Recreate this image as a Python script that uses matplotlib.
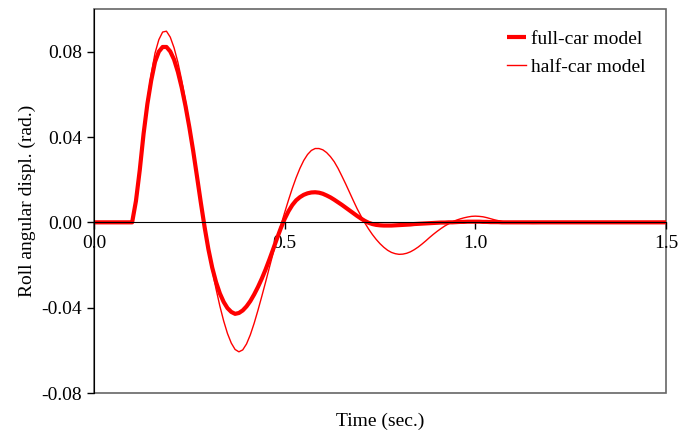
import matplotlib
matplotlib.use('Agg')
import matplotlib.pyplot as plt
import matplotlib.patches as patches

plt.rcParams['font.family'] = ['Liberation Serif', 'DejaVu Serif']

# time samples (sec.)
time = [0.00, 0.10,
        0.11, 0.12, 0.13, 0.14, 0.15, 0.16, 0.17, 0.18, 0.19, 0.20,
        0.21, 0.22, 0.23, 0.24, 0.25, 0.26, 0.27, 0.28, 0.29, 0.30,
        0.31, 0.32, 0.33, 0.34, 0.35, 0.36, 0.37, 0.38, 0.39, 0.40,
        0.41, 0.42, 0.43, 0.44, 0.45, 0.46, 0.47, 0.48, 0.49, 0.50,
        0.51, 0.52, 0.53, 0.54, 0.55, 0.56, 0.57, 0.58, 0.59, 0.60,
        0.61, 0.62, 0.63, 0.64, 0.65, 0.66, 0.67, 0.68, 0.69, 0.70,
        0.71, 0.72, 0.73, 0.74, 0.75, 0.76, 0.77, 0.78, 0.79, 0.80,
        0.81, 0.82, 0.83, 0.84, 0.85, 0.86, 0.87, 0.88, 0.89, 0.90,
        0.91, 0.92, 0.93, 0.94, 0.95, 0.96, 0.97, 0.98, 0.99, 1.00,
        1.01, 1.02, 1.03, 1.04, 1.05, 1.06, 1.07, 1.08, 1.09, 1.10,
        1.15, 1.20, 1.25, 1.30, 1.40, 1.50]

# roll angular displacement (rad.), full-car model
full_car = [0.0, 0.0,
            0.0100, 0.0245, 0.0415, 0.0555, 0.0665, 0.0752, 0.0800, 0.0822, 0.0822, 0.0801,
            0.0763, 0.0705, 0.0632, 0.0545, 0.0446, 0.0336, 0.0216, 0.0094, -0.0022, -0.0126,
            -0.0212, -0.0280, -0.0333, -0.0373, -0.0402, -0.0420, -0.0429, -0.0425, -0.0413, -0.0394,
            -0.0369, -0.0338, -0.0303, -0.0264, -0.0221, -0.0174, -0.0125, -0.0075, -0.0027, 0.0016,
            0.0052, 0.0081, 0.0103, 0.0118, 0.0129, 0.0136, 0.0140, 0.0141, 0.0139, 0.0134,
            0.0126, 0.0117, 0.0106, 0.0094, 0.0082, 0.0069, 0.0056, 0.0043, 0.0030, 0.0018,
            0.0007, -0.0002, -0.0008, -0.0012, -0.0014, -0.0015, -0.0015, -0.0015, -0.0014, -0.0013,
            -0.0012, -0.0011, -0.0010, -0.0008, -0.0007, -0.0006, -0.0005, -0.0004, -0.0003, -0.0002,
            -0.0001, -0.0001, 0.0000, 0.0000, 0.0001, 0.0002, 0.0002, 0.0003, 0.0003, 0.0003,
            0.0003, 0.0002, 0.0002, 0.0001, 0.0001, 0.0001, 0.0000, 0.0000, 0.0000, 0.0000,
            0.0, 0.0, 0.0, 0.0, 0.0, 0.0]

# roll angular displacement (rad.), half-car model
half_car = [0.0, 0.0,
            0.0100, 0.0248, 0.0422, 0.0572, 0.0694, 0.0793, 0.0856, 0.0892, 0.0896, 0.0868,
            0.0818, 0.0750, 0.0666, 0.0568, 0.0458, 0.0340, 0.0218, 0.0095, -0.0020, -0.0128,
            -0.0224, -0.0312, -0.0392, -0.0462, -0.0521, -0.0566, -0.0596, -0.0607, -0.0598, -0.0570,
            -0.0527, -0.0473, -0.0412, -0.0347, -0.0280, -0.0211, -0.0143, -0.0077, -0.0014, 0.0046,
            0.0104, 0.0159, 0.0209, 0.0253, 0.0290, 0.0318, 0.0337, 0.0346, 0.0346, 0.0340,
            0.0327, 0.0308, 0.0284, 0.0253, 0.0217, 0.0180, 0.0141, 0.0102, 0.0064, 0.0030,
            -0.0002, -0.0031, -0.0057, -0.0080, -0.0100, -0.0117, -0.0131, -0.0141, -0.0147, -0.0150,
            -0.0149, -0.0145, -0.0138, -0.0128, -0.0116, -0.0102, -0.0087, -0.0071, -0.0056, -0.0042,
            -0.0029, -0.0017, -0.0007, 0.0002, 0.0010, 0.0016, 0.0021, 0.0025, 0.0028, 0.0029,
            0.0028, 0.0026, 0.0022, 0.0017, 0.0012, 0.0008, 0.0004, 0.0001, -0.0001, -0.0003,
            -0.0005, -0.0004, -0.0002, 0.0, 0.0, 0.0]

x_ticks = [0.0, 0.5, 1.0, 1.5]
x_labels = ['0.0', '0.5', '1.0', '1.5']
y_ticks = [-0.08, -0.04, 0.00, 0.04, 0.08]
y_labels = ['-0.08', '-0.04', '0.00', '0.04', '0.08']

fig = plt.figure(figsize=(6.94, 4.30), dpi=100)
ax = fig.add_axes([94 / 694, 37 / 430, 572 / 694, 384 / 430])

ax.plot(time, full_car, color='#ff0000', lw=3.0, label='full-car model',
        solid_joinstyle='round', solid_capstyle='butt')
ax.plot(time, half_car, color='#ff0000', lw=1.0, label='half-car model')

ax.set_xlim(0, 1.5)
ax.set_ylim(-0.08, 0.10)

# x axis runs through zero
ax.spines['bottom'].set_position(('data', 0))
ax.spines['bottom'].set_color('black')
ax.spines['left'].set_color('black')
ax.spines['top'].set_visible(False)
ax.spines['right'].set_visible(False)
frame = patches.Rectangle((0, 0), 1, 1, transform=ax.transAxes, fill=False,
                          edgecolor='#666666', lw=1.2, clip_on=False, zorder=0)
ax.add_patch(frame)

ax.set_xticks(x_ticks)
ax.set_xticklabels(x_labels)
ax.set_yticks(y_ticks)
ax.set_yticklabels(y_labels)
ax.tick_params(axis='both', direction='out', length=5, width=1, labelsize=14, colors='black')
ax.tick_params(axis='x', pad=4)

ax.set_ylabel('Roll angular displ. (rad.)', fontsize=14, labelpad=4)
ax.text(0.5, -0.052, 'Time (sec.)', transform=ax.transAxes, ha='center', va='top', fontsize=14)

ax.legend(loc='upper right', frameon=False, fontsize=14, handlelength=1.0,
          handletextpad=0.25, labelspacing=0.55, bbox_to_anchor=(0.995, 0.99), borderaxespad=0.5)

fig.savefig('out.png', dpi=100)
